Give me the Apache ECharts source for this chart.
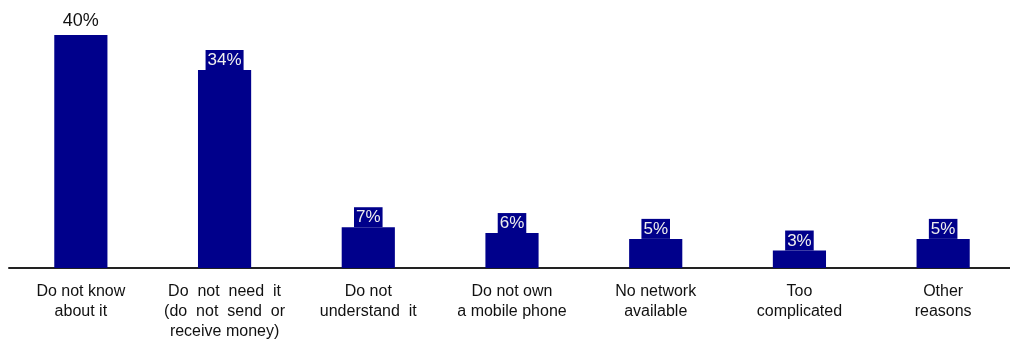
<!DOCTYPE html>
<html>
<head>
<meta charset="utf-8">
<script src="https://cdn.jsdelivr.net/npm/echarts@6/dist/echarts.min.js"></script>
<style>
  html, body { margin: 0; padding: 0; background: #fff; }
  #chart { width: 1010px; height: 341px; }
</style>
</head>
<body>
<div id="chart"></div>
<script>
// reasons for not using the service
var categories = [
  'Do not know\nabout it',
  'Do  not  need  it\n(do  not  send  or\nreceive money)',
  'Do not\nunderstand  it',
  'Do not own\na mobile phone',
  'No network\navailable',
  'Too\ncomplicated',
  'Other\nreasons'
];
var percentValues = [40, 34, 7, 6, 5, 3, 5];

var barColor = '#00008B';
var myChart = echarts.init(document.getElementById('chart'));

// first bar's label is plain black text, the others sit in a navy box
var seriesData = [];
for (var i = 0; i < percentValues.length; i++) {
  var item = { value: percentValues[i] };
  if (i === 0) {
    item.label = {
      color: '#111',
      backgroundColor: 'transparent',
      fontSize: 18,
      distance: 4
    };
  }
  seriesData.push(item);
}

var option = {
  animation: false,
  grid: {
    left: 9,
    width: 1006,
    top: 35,
    bottom: 73,
    outerBoundsMode: 'none'
  },
  xAxis: {
    type: 'category',
    data: categories,
    axisLine: { show: true, lineStyle: { color: '#222', width: 2 } },
    axisTick: { show: false },
    axisLabel: {
      interval: 0,
      margin: 14,
      color: '#111',
      fontSize: 16,
      lineHeight: 20,
      fontFamily: 'Liberation Sans, Arial, sans-serif'
    }
  },
  yAxis: {
    type: 'value',
    min: 0,
    max: 40,
    show: false,
    splitLine: { show: false }
  },
  series: [
    {
      name: 'reasons',
      type: 'bar',
      barWidth: '37%',
      itemStyle: { color: barColor },
      label: {
        show: true,
        position: 'top',
        distance: 0,
        formatter: '{c}%',
        color: '#eee',
        backgroundColor: barColor,
        padding: [2, 2, 1, 2],
        fontSize: 17,
        fontFamily: 'Liberation Sans, Arial, sans-serif'
      },
      data: seriesData
    }
  ]
};

myChart.setOption(option);
</script>
</body>
</html>
